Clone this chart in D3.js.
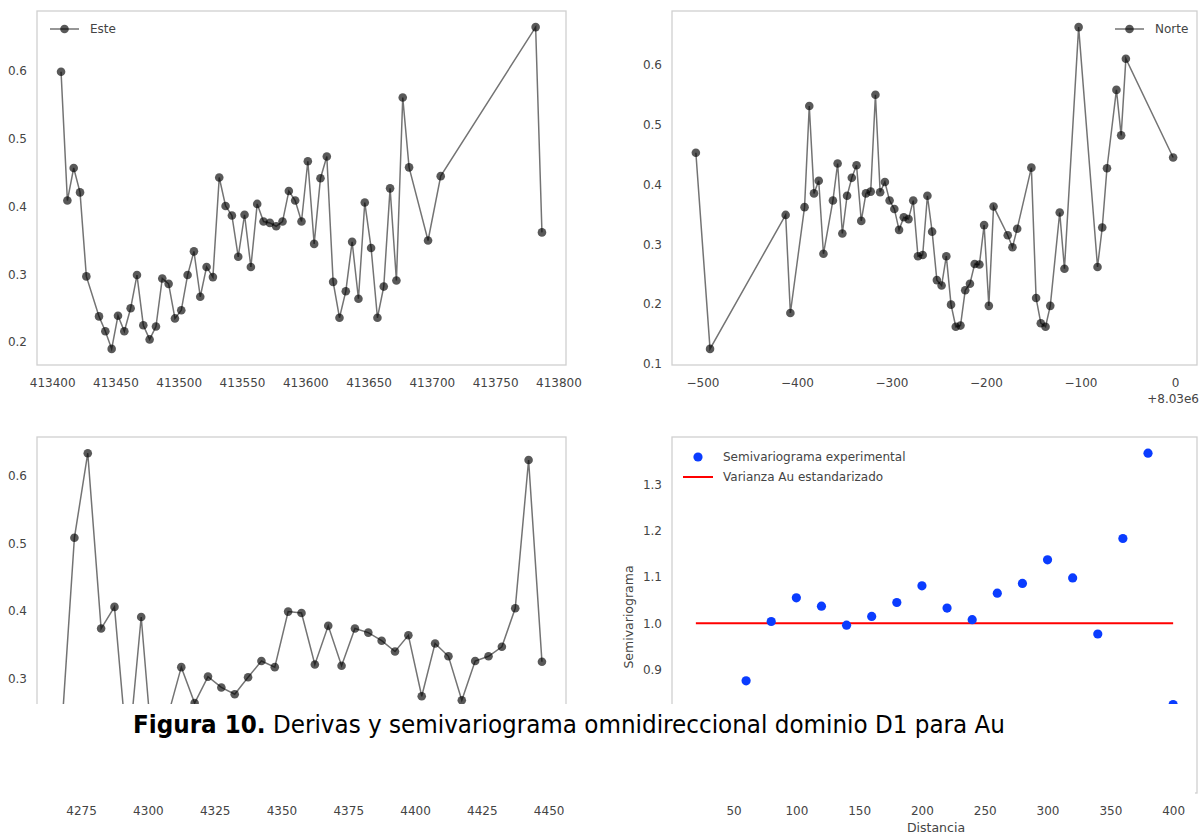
<!DOCTYPE html>
<html>
<head>
<meta charset="utf-8">
<script src="https://cdn.jsdelivr.net/npm/d3@7"></script>
<style>
body { margin: 0; background: #fff; }
svg text { font-family: "DejaVu Sans", sans-serif; }
</style>
</head>
<body>
<svg id="chart" width="1199" height="836"></svg>
<script>
// deriva Este
var esteX = [413407, 413412, 413417, 413422, 413427, 413437, 413442, 413447, 413452, 413457,
	413462, 413467, 413472, 413477, 413482, 413487, 413492, 413497, 413502, 413507,
	413512, 413517, 413522, 413527, 413532, 413537, 413542, 413547, 413552, 413557,
	413562, 413567, 413572, 413577, 413582, 413587, 413592, 413597, 413602, 413607,
	413612, 413617, 413622, 413627, 413632, 413637, 413642, 413647, 413652, 413657,
	413662, 413667, 413672, 413677, 413682, 413697, 413707, 413782, 413787];
var esteY = [0.599, 0.409, 0.457, 0.421, 0.297, 0.238, 0.216, 0.190, 0.239, 0.216,
	0.250, 0.299, 0.225, 0.204, 0.223, 0.294, 0.286, 0.235, 0.247, 0.299,
	0.334, 0.267, 0.311, 0.296, 0.443, 0.401, 0.387, 0.326, 0.388, 0.311,
	0.404, 0.378, 0.376, 0.371, 0.378, 0.423, 0.409, 0.378, 0.467, 0.345,
	0.442, 0.474, 0.289, 0.236, 0.275, 0.348, 0.264, 0.406, 0.339, 0.236,
	0.282, 0.427, 0.291, 0.561, 0.458, 0.350, 0.445, 0.665, 0.362];
var esteXTicks = [413400, 413450, 413500, 413550, 413600, 413650, 413700, 413750, 413800];
var esteYTicks = [0.2, 0.3, 0.4, 0.5, 0.6];

// deriva Norte (offset +8.03e6)
var norteX = [-507, -492, -412, -407, -392, -387, -382, -377, -372, -362,
	-357, -352, -347, -342, -337, -332, -327, -322, -317, -312,
	-307, -302, -297, -292, -287, -282, -277, -272, -267, -262,
	-257, -252, -247, -242, -237, -232, -227, -222, -217, -212,
	-207, -202, -197, -192, -177, -172, -167, -152, -147, -142,
	-137, -132, -122, -117, -102, -82, -77, -72, -62, -57,
	-52, -2];
var norteY = [0.453, 0.125, 0.349, 0.185, 0.362, 0.531, 0.385, 0.406, 0.284, 0.373,
	0.435, 0.318, 0.381, 0.411, 0.432, 0.339, 0.385, 0.388, 0.550, 0.387,
	0.404, 0.373, 0.359, 0.324, 0.345, 0.342, 0.373, 0.280, 0.282, 0.381,
	0.321, 0.240, 0.231, 0.280, 0.199, 0.162, 0.164, 0.223, 0.234, 0.267,
	0.266, 0.332, 0.197, 0.363, 0.315, 0.295, 0.326, 0.428, 0.210, 0.168,
	0.162, 0.197, 0.353, 0.259, 0.663, 0.262, 0.328, 0.427, 0.558, 0.482,
	0.610, 0.445];
var norteXTicks = [-500, -400, -300, -200, -100, 0];
var norteYTicks = [0.1, 0.2, 0.3, 0.4, 0.5, 0.6];

// deriva Cota
var cotaX = [4267.5, 4272.5, 4277.5, 4282.5, 4287.5, 4292.5, 4297.5, 4302.5, 4307.5, 4312.5,
	4317.5, 4322.5, 4327.5, 4332.5, 4337.5, 4342.5, 4347.5, 4352.5, 4357.5, 4362.5,
	4367.5, 4372.5, 4377.5, 4382.5, 4387.5, 4392.5, 4397.5, 4402.5, 4407.5, 4412.5,
	4417.5, 4422.5, 4427.5, 4432.5, 4437.5, 4442.5, 4447.5];
var cotaY = [0.210, 0.508, 0.633, 0.374, 0.406, 0.180, 0.391, 0.155, 0.245, 0.317,
	0.264, 0.303, 0.287, 0.277, 0.302, 0.326, 0.317, 0.399, 0.397, 0.321,
	0.378, 0.319, 0.374, 0.368, 0.356, 0.340, 0.364, 0.274, 0.352, 0.333,
	0.268, 0.326, 0.333, 0.347, 0.404, 0.623, 0.325];
var cotaXTicks = [4275, 4300, 4325, 4350, 4375, 4400, 4425, 4450];
var cotaYTicks = [0.3, 0.4, 0.5, 0.6];

// semivariograma
var lags = [20, 40, 60, 80, 100, 120, 140, 160, 180, 200, 220, 240, 260, 280, 300, 320, 340, 360, 380, 400];
var gamma = [0.669, 0.780, 0.876, 1.004, 1.055, 1.037, 0.996, 1.015, 1.045, 1.081,
	1.033, 1.008, 1.065, 1.086, 1.137, 1.098, 0.977, 1.183, 1.367, 0.825];
var varianza = 1.0;
var semiXTicks = [50, 100, 150, 200, 250, 300, 350, 400];
var semiYTicks = [0.9, 1.0, 1.1, 1.2, 1.3];

var svg = d3.select("#chart");
var textColor = "#444";

function padded(values) {
	var ext = d3.extent(values);
	var pad = (ext[1] - ext[0]) * 0.05;
	return [ext[0] - pad, ext[1] + pad];
}

function frame(box, x, y, xTicks, yTicks, xFmt, yFmt) {
	svg.append("rect").attr("x", box.left).attr("y", box.top)
		.attr("width", box.right - box.left).attr("height", box.bottom - box.top)
		.attr("fill", "none").attr("stroke", "#d0d0d0").attr("stroke-width", 1.3);

	var xa = svg.append("g").attr("transform", "translate(0," + box.bottom + ")")
		.call(d3.axisBottom(x).tickValues(xTicks).tickFormat(xFmt).tickSize(0).tickPadding(13));
	var ya = svg.append("g").attr("transform", "translate(" + box.left + ",0)")
		.call(d3.axisLeft(y).tickValues(yTicks).tickFormat(yFmt).tickSize(0).tickPadding(10));
	[xa, ya].forEach(function(a) {
		a.select(".domain").remove();
		a.selectAll("text").attr("font-size", 12).attr("fill", textColor)
			.attr("font-family", "DejaVu Sans, sans-serif");
	});
}

function linePanel(box, xs, ys, xTicks, yTicks, xFmt, label, legendX) {
	var x = d3.scaleLinear().domain(padded(xs)).range([box.left, box.right]);
	var y = d3.scaleLinear().domain(padded(ys)).range([box.bottom, box.top]);
	frame(box, x, y, xTicks, yTicks, xFmt, d3.format(".1f"));

	var pts = xs.map(function(d, i) { return [d, ys[i]]; });
	var line = d3.line().x(function(d) { return x(d[0]); }).y(function(d) { return y(d[1]); });
	svg.append("path").datum(pts).attr("d", line)
		.attr("fill", "none").attr("stroke", "#000").attr("stroke-opacity", 0.55).attr("stroke-width", 1.5);
	svg.append("g").selectAll("circle").data(pts).enter().append("circle")
		.attr("cx", function(d) { return x(d[0]); })
		.attr("cy", function(d) { return y(d[1]); })
		.attr("r", 4.3).attr("fill", "#000").attr("fill-opacity", 0.65);

	if (!label) return;
	// legend
	var ly = box.top + 18;
	svg.append("line").attr("x1", legendX).attr("x2", legendX + 29).attr("y1", ly).attr("y2", ly)
		.attr("stroke", "#000").attr("stroke-opacity", 0.55).attr("stroke-width", 1.5);
	svg.append("circle").attr("cx", legendX + 14.5).attr("cy", ly).attr("r", 4.3)
		.attr("fill", "#000").attr("fill-opacity", 0.65);
	svg.append("text").attr("x", legendX + 40).attr("y", ly).attr("dy", "0.35em")
		.attr("font-size", 12).attr("fill", textColor).text(label);
}

var p1 = {left: 37, right: 566, top: 11, bottom: 365};
var p2 = {left: 672, right: 1197, top: 11, bottom: 365};
var p3 = {left: 37, right: 566, top: 437, bottom: 793};
var p4 = {left: 672, right: 1197, top: 437, bottom: 793};

linePanel(p1, esteX, esteY, esteXTicks, esteYTicks, d3.format("d"), "Este", 50);
linePanel(p2, norteX, norteY, norteXTicks, norteYTicks, d3.format("d"), "Norte", 1115);
linePanel(p3, cotaX, cotaY, cotaXTicks, cotaYTicks, d3.format("d"), null, 0);

svg.append("text").attr("x", 1199).attr("y", 403).attr("text-anchor", "end")
	.attr("font-size", 12).attr("fill", textColor).text("+8.03e6");

// semivariograma
var sx = d3.scaleLinear().domain(padded(lags)).range([p4.left, p4.right]);
var sy = d3.scaleLinear().domain(padded(gamma)).range([p4.bottom, p4.top]);
frame(p4, sx, sy, semiXTicks, semiYTicks, d3.format("d"), d3.format(".1f"));

svg.append("line").attr("x1", sx(lags[0])).attr("x2", sx(lags[lags.length - 1]))
	.attr("y1", sy(varianza)).attr("y2", sy(varianza))
	.attr("stroke", "#ff0000").attr("stroke-width", 2);
svg.append("g").selectAll("circle").data(lags).enter().append("circle")
	.attr("cx", function(d) { return sx(d); })
	.attr("cy", function(d, i) { return sy(gamma[i]); })
	.attr("r", 4.6).attr("fill", "#0a3cff");

svg.append("circle").attr("cx", 698).attr("cy", 457).attr("r", 4.6).attr("fill", "#0a3cff");
svg.append("text").attr("x", 723).attr("y", 457).attr("dy", "0.35em").attr("font-size", 12)
	.attr("fill", textColor).text("Semivariograma experimental");
svg.append("line").attr("x1", 683).attr("x2", 713).attr("y1", 477).attr("y2", 477)
	.attr("stroke", "#ff0000").attr("stroke-width", 2);
svg.append("text").attr("x", 723).attr("y", 477).attr("dy", "0.35em").attr("font-size", 12)
	.attr("fill", textColor).text("Varianza Au estandarizado");

svg.append("text").attr("transform", "translate(629,617) rotate(-90)").attr("text-anchor", "middle")
	.attr("dy", "0.35em").attr("font-size", 12.5).attr("fill", textColor).text("Semivariograma");
svg.append("text").attr("x", 936).attr("y", 828).attr("text-anchor", "middle").attr("dy", "0.35em")
	.attr("font-size", 12.5).attr("fill", textColor).text("Distancia");

// caption band over the lower plots
svg.append("rect").attr("x", 0).attr("y", 704).attr("width", 1195).attr("height", 93).attr("fill", "#fff");
var cap = svg.append("text").attr("x", 133).attr("y", 733)
	.attr("font-family", "Open Sans, sans-serif").attr("font-size", 24).attr("fill", "#000")
	.attr("textLength", 872).attr("lengthAdjust", "spacingAndGlyphs");
cap.append("tspan").attr("font-weight", "bold").text("Figura 10.");
cap.append("tspan").text(" Derivas y semivariograma omnidireccional dominio D1 para Au");
</script>
</body>
</html>
